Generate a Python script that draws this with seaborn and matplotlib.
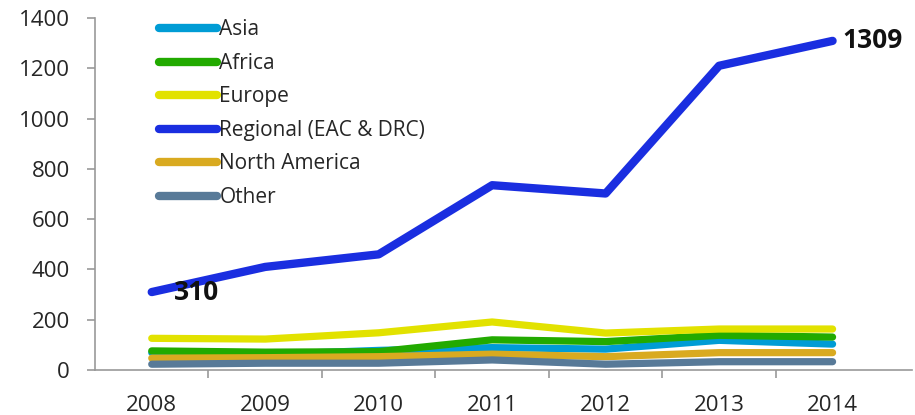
import matplotlib
matplotlib.use("Agg")
import matplotlib.pyplot as plt
import seaborn as sns
import pandas as pd

years = ["2008", "2009", "2010", "2011", "2012", "2013", "2014"]
asia = [69, 62, 78, 89, 83, 118, 103]
africa = [76, 71, 73, 120, 113, 138, 131]
europe = [126, 123, 148, 191, 147, 163, 163]
regional = [310, 410, 460, 735, 702, 1210, 1309]
north_america = [47, 49, 53, 63, 53, 69, 69]
other = [23, 27, 27, 40, 23, 33, 33]

series_names = ["Asia", "Africa", "Europe", "Regional (EAC & DRC)", "North America", "Other"]
series_values = [asia, africa, europe, regional, north_america, other]
colors = ["#009cd5", "#22aa00", "#e2e200", "#1a2ee0", "#d9aa20", "#587a98"]

rows = []
for name, vals in zip(series_names, series_values):
    for i, v in enumerate(vals):
        rows.append({"idx": i, "value": v, "series": name})
df = pd.DataFrame(rows)

sns.set_theme(style="white")
plt.rcParams["font.family"] = ["Open Sans", "DejaVu Sans"]

fig = plt.figure(figsize=(9.15, 4.15), dpi=100)
ax = fig.add_axes([95 / 915, 45 / 415, (912 - 95) / 915, (370 - 18) / 415])

sns.lineplot(data=df, x="idx", y="value", hue="series", hue_order=series_names,
             palette=dict(zip(series_names, colors)), ax=ax, linewidth=5.2,
             solid_capstyle="round", legend=True)
for line, name in zip(ax.get_lines(), series_names):
    if name.startswith("Regional"):
        line.set_linewidth(6.0)

ax.set_xlim(-0.5, 6.7)
ax.set_ylim(0, 1400)
ax.set_yticks(range(0, 1401, 200))
ax.set_xticks(range(len(years)))
ax.set_xticklabels(years)
ax.set_xticks([i + 0.5 for i in range(len(years) - 1)], minor=True)
ax.tick_params(axis="x", which="major", length=0, pad=18, labelsize=16)
ax.tick_params(axis="x", which="minor", length=6, width=1.2, color="#999999", direction="out", bottom=True)
ax.tick_params(axis="y", length=6, width=1.2, color="#999999", direction="out", left=True, labelsize=16, pad=12)
ax.set_xlabel("")
ax.set_ylabel("")
for s in ["top", "right"]:
    ax.spines[s].set_visible(False)
for s in ["left", "bottom"]:
    ax.spines[s].set_color("#999999")
    ax.spines[s].set_linewidth(1.2)
ax.grid(False)

ax.annotate(str(regional[0]), xy=(0, regional[0]), xytext=(16, 0), textcoords="offset points",
            ha="left", va="center", fontsize=19, fontweight="bold", color="#111111")
ax.annotate(str(regional[-1]), xy=(6, regional[-1]), xytext=(7, 0), textcoords="offset points",
            ha="left", va="center", fontsize=19, fontweight="bold", color="#111111")

leg = ax.legend(loc="upper left", bbox_to_anchor=(0.068, 1.02), frameon=False, fontsize=15,
                handlelength=2.8, handletextpad=0.1, labelspacing=0.6, borderaxespad=0)
for h in leg.get_lines():
    h.set_linewidth(6)
    h.set_solid_capstyle("round")

fig.savefig("out.png", dpi=100)
